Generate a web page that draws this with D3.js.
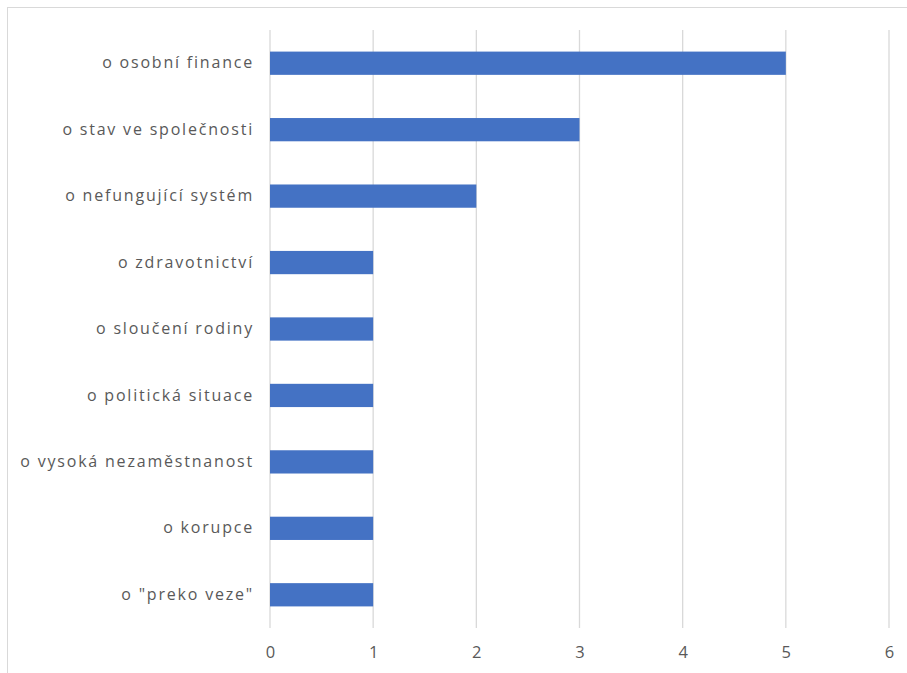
<!DOCTYPE html>
<html>
<head>
<meta charset="utf-8">
<script src="https://cdn.jsdelivr.net/npm/d3@7"></script>
<style>
  body { margin: 0; background: #fff; }
  text { font-family: "Open Sans", "Noto Sans", sans-serif; }
</style>
</head>
<body>
<div id="chart"></div>
<script>
const categories = ['o osobní finance', 'o stav ve společnosti', 'o nefungující systém', 'o zdravotnictví',
  'o sloučení rodiny', 'o politická situace', 'o vysoká nezaměstnanost', 'o korupce', 'o "preko veze"'];
const values = [5, 3, 2, 1, 1, 1, 1, 1, 1];
const xTicks = [0, 1, 2, 3, 4, 5, 6];

const width = 907, height = 673;
const margin = { top: 30, right: 18, bottom: 45, left: 270 };

const svg = d3.select('#chart').append('svg')
  .attr('width', width)
  .attr('height', height);

// chart frame (runs off right and bottom edge)
svg.append('rect')
  .attr('x', 7.5).attr('y', 7.5)
  .attr('width', width + 10).attr('height', height + 10)
  .attr('fill', 'none')
  .attr('stroke', '#d9d9d9');

const xScale = d3.scaleLinear()
  .domain([0, 6])
  .range([margin.left, 889]);
const yScale = d3.scaleBand()
  .domain(categories)
  .range([margin.top, height - margin.bottom])
  .paddingInner(0.65)
  .paddingOuter(0.325);

// gridlines
svg.append('g')
  .selectAll('line')
  .data(xTicks)
  .enter().append('line')
  .attr('x1', d => xScale(d)).attr('x2', d => xScale(d))
  .attr('y1', margin.top).attr('y2', height - margin.bottom)
  .attr('stroke', '#d9d9d9')
  .attr('stroke-width', 1.3);

svg.selectAll('rect.bar')
  .data(values)
  .enter().append('rect')
  .attr('class', 'bar')
  .attr('x', xScale(0))
  .attr('y', (d, i) => yScale(categories[i]))
  .attr('width', d => xScale(d) - xScale(0))
  .attr('height', yScale.bandwidth())
  .attr('fill', '#4472c4');

const xAxis = d3.axisBottom(xScale).tickValues(xTicks).tickFormat(d3.format('d')).tickSize(0).tickPadding(18);
svg.append('g')
  .attr('transform', 'translate(0,' + (height - margin.bottom) + ')')
  .call(xAxis)
  .call(g => g.select('.domain').remove())
  .selectAll('text')
  .attr('fill', '#595959')
  .style('font-size', '16.5px');

const yAxis = d3.axisLeft(yScale).tickSize(0).tickPadding(16);
svg.append('g')
  .attr('transform', 'translate(' + margin.left + ',0)')
  .call(yAxis)
  .call(g => g.select('.domain').remove())
  .selectAll('text')
  .attr('fill', '#595959')
  .style('font-size', '16px')
  .style('letter-spacing', '1.8px');
</script>
</body>
</html>
